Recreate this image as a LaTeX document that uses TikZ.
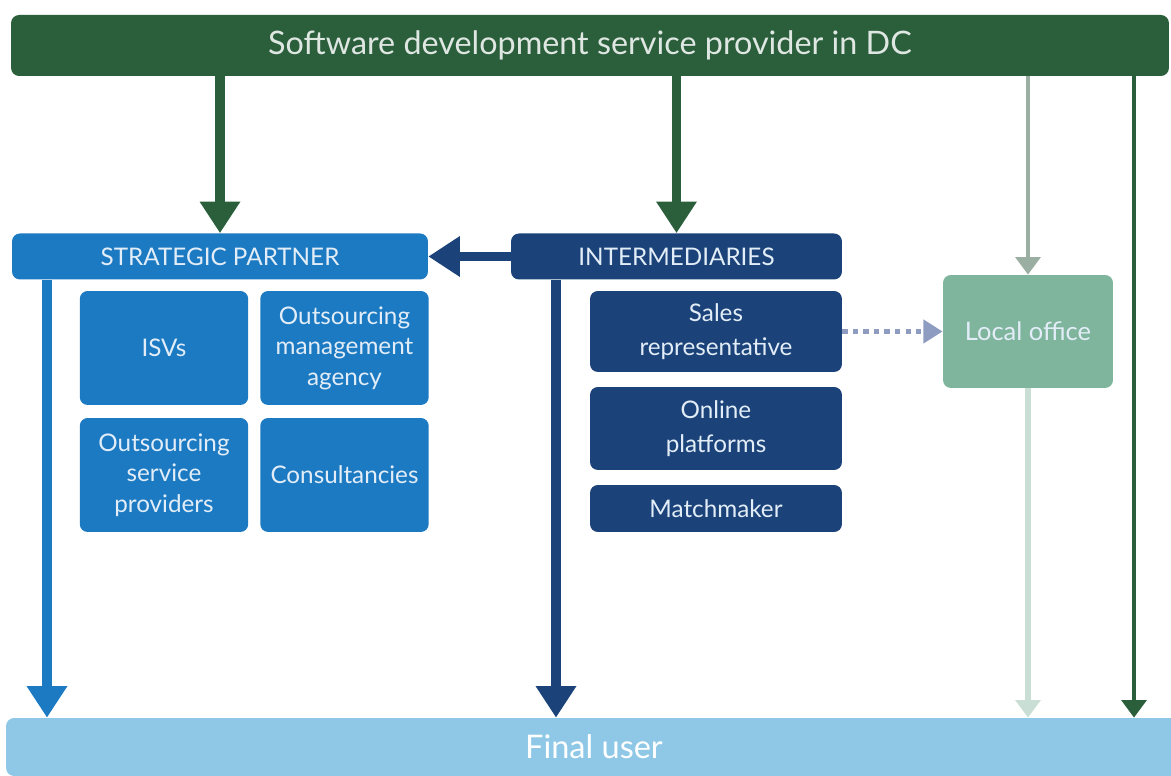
\documentclass[tikz,border=0pt]{standalone}
\usepackage{fontspec}
\setmainfont{Lato}
\usetikzlibrary{arrows.meta}

\definecolor{provgreen}{HTML}{2B5F3C}
\definecolor{partblue}{HTML}{1C7AC3}
\definecolor{intnavy}{HTML}{1B4379}
\definecolor{officegreen}{HTML}{80B59D}
\definecolor{userblue}{HTML}{8FC8E7}
\definecolor{greyarrow}{HTML}{9AAEA2}
\definecolor{paleline}{HTML}{C9DFD6}
\definecolor{dotblue}{HTML}{8E9CC2}
\definecolor{boxtext}{HTML}{E2EDF7}

\begin{document}
\begin{tikzpicture}[x=0.02cm,y=-0.02cm,
    box/.style={rectangle,rounded corners=4.5pt,align=center,inner sep=2pt,
      text=boxtext,font=\fontsize{13.8}{17.3}\selectfont},
    partbox/.style={box,fill=partblue,minimum width=3.37cm,minimum height=2.28cm},
    navybox/.style={box,fill=intnavy,minimum width=5.04cm,font=\fontsize{13.8}{19.6}\selectfont},
    link/.style={line width=5.5pt,-{Triangle[length=18pt,width=22pt]}},
    thinlink/.style={line width=2.8pt,-{Triangle[length=10pt,width=14pt]}}]
    \useasboundingbox (0,0) rectangle (1171,776);

    % Provider and final user
    \node[box,fill=provgreen,text=provgreen!15,minimum width=23.16cm,minimum height=1.22cm,
      font=\fontsize{18.4}{20}\selectfont] (prov) at (590,45.5) {Software development service provider in DC};
    \node[box,fill=userblue,text=white,minimum width=23.52cm,minimum height=1.16cm,
      font=\fontsize{18.5}{20}\selectfont] (user) at (594,747) {Final user};

    % Headers
    \node[box,fill=partblue,minimum width=8.32cm,minimum height=0.92cm] (strat) at (220,256.5) {STRATEGIC PARTNER};
    \node[navybox,minimum width=6.62cm,minimum height=0.92cm] (inter) at (676.5,256.5) {INTERMEDIARIES};

    % Strategic partner grid
    \node[partbox] (isv) at (164,348) {ISVs};
    \node[partbox] (agency) at (344.5,348) {Outsourcing\\management\\agency};
    \node[partbox] (osp) at (164,475) {Outsourcing\\service\\providers};
    \node[partbox] (consult) at (344.5,475) {Consultancies};

    % Intermediaries list
    \node[navybox,minimum height=1.62cm] (sales) at (716,331.5) {Sales\\representative};
    \node[navybox,minimum height=1.66cm] (online) at (716,428.5) {Online\\platforms};
    \node[navybox,minimum height=0.94cm] (match) at (716,508.5) {Matchmaker};

    % Local office
    \node[box,fill=officegreen,minimum width=3.4cm,minimum height=2.26cm,
      font=\fontsize{14.5}{16}\selectfont] (office) at (1028,331.5) {Local office};

    % Arrows from the provider
    \draw[link,provgreen] (strat.north |- prov.south) -- (strat.north);
    \draw[link,provgreen] (inter.north |- prov.south) -- (inter.north);
    \draw[thinlink,greyarrow] (office.north |- prov.south) -- (office.north);
    \coordinate (direct) at (1134,0);
    \draw[thinlink,line width=2.5pt,provgreen] (prov.south -| direct) -- (user.north -| direct);

    % Intermediaries to strategic partner
    \draw[link,intnavy] (inter.west) -- (strat.east);

    % Down to the final user
    \coordinate (stratdown) at (47,0);
    \coordinate (interdown) at (556,0);
    \draw[link,partblue] (strat.south -| stratdown) -- (user.north -| stratdown);
    \draw[link,intnavy] (inter.south -| interdown) -- (user.north -| interdown);
    \draw[thinlink,line width=3.2pt,paleline] (office.south) -- (user.north -| office.south);

    % Sales representative to local office
    \draw[dotblue,line width=3.4pt,dash pattern=on 3pt off 3pt,-{Triangle[length=11pt,width=13pt]}] (sales.east) -- (office.west);
\end{tikzpicture}
\end{document}
